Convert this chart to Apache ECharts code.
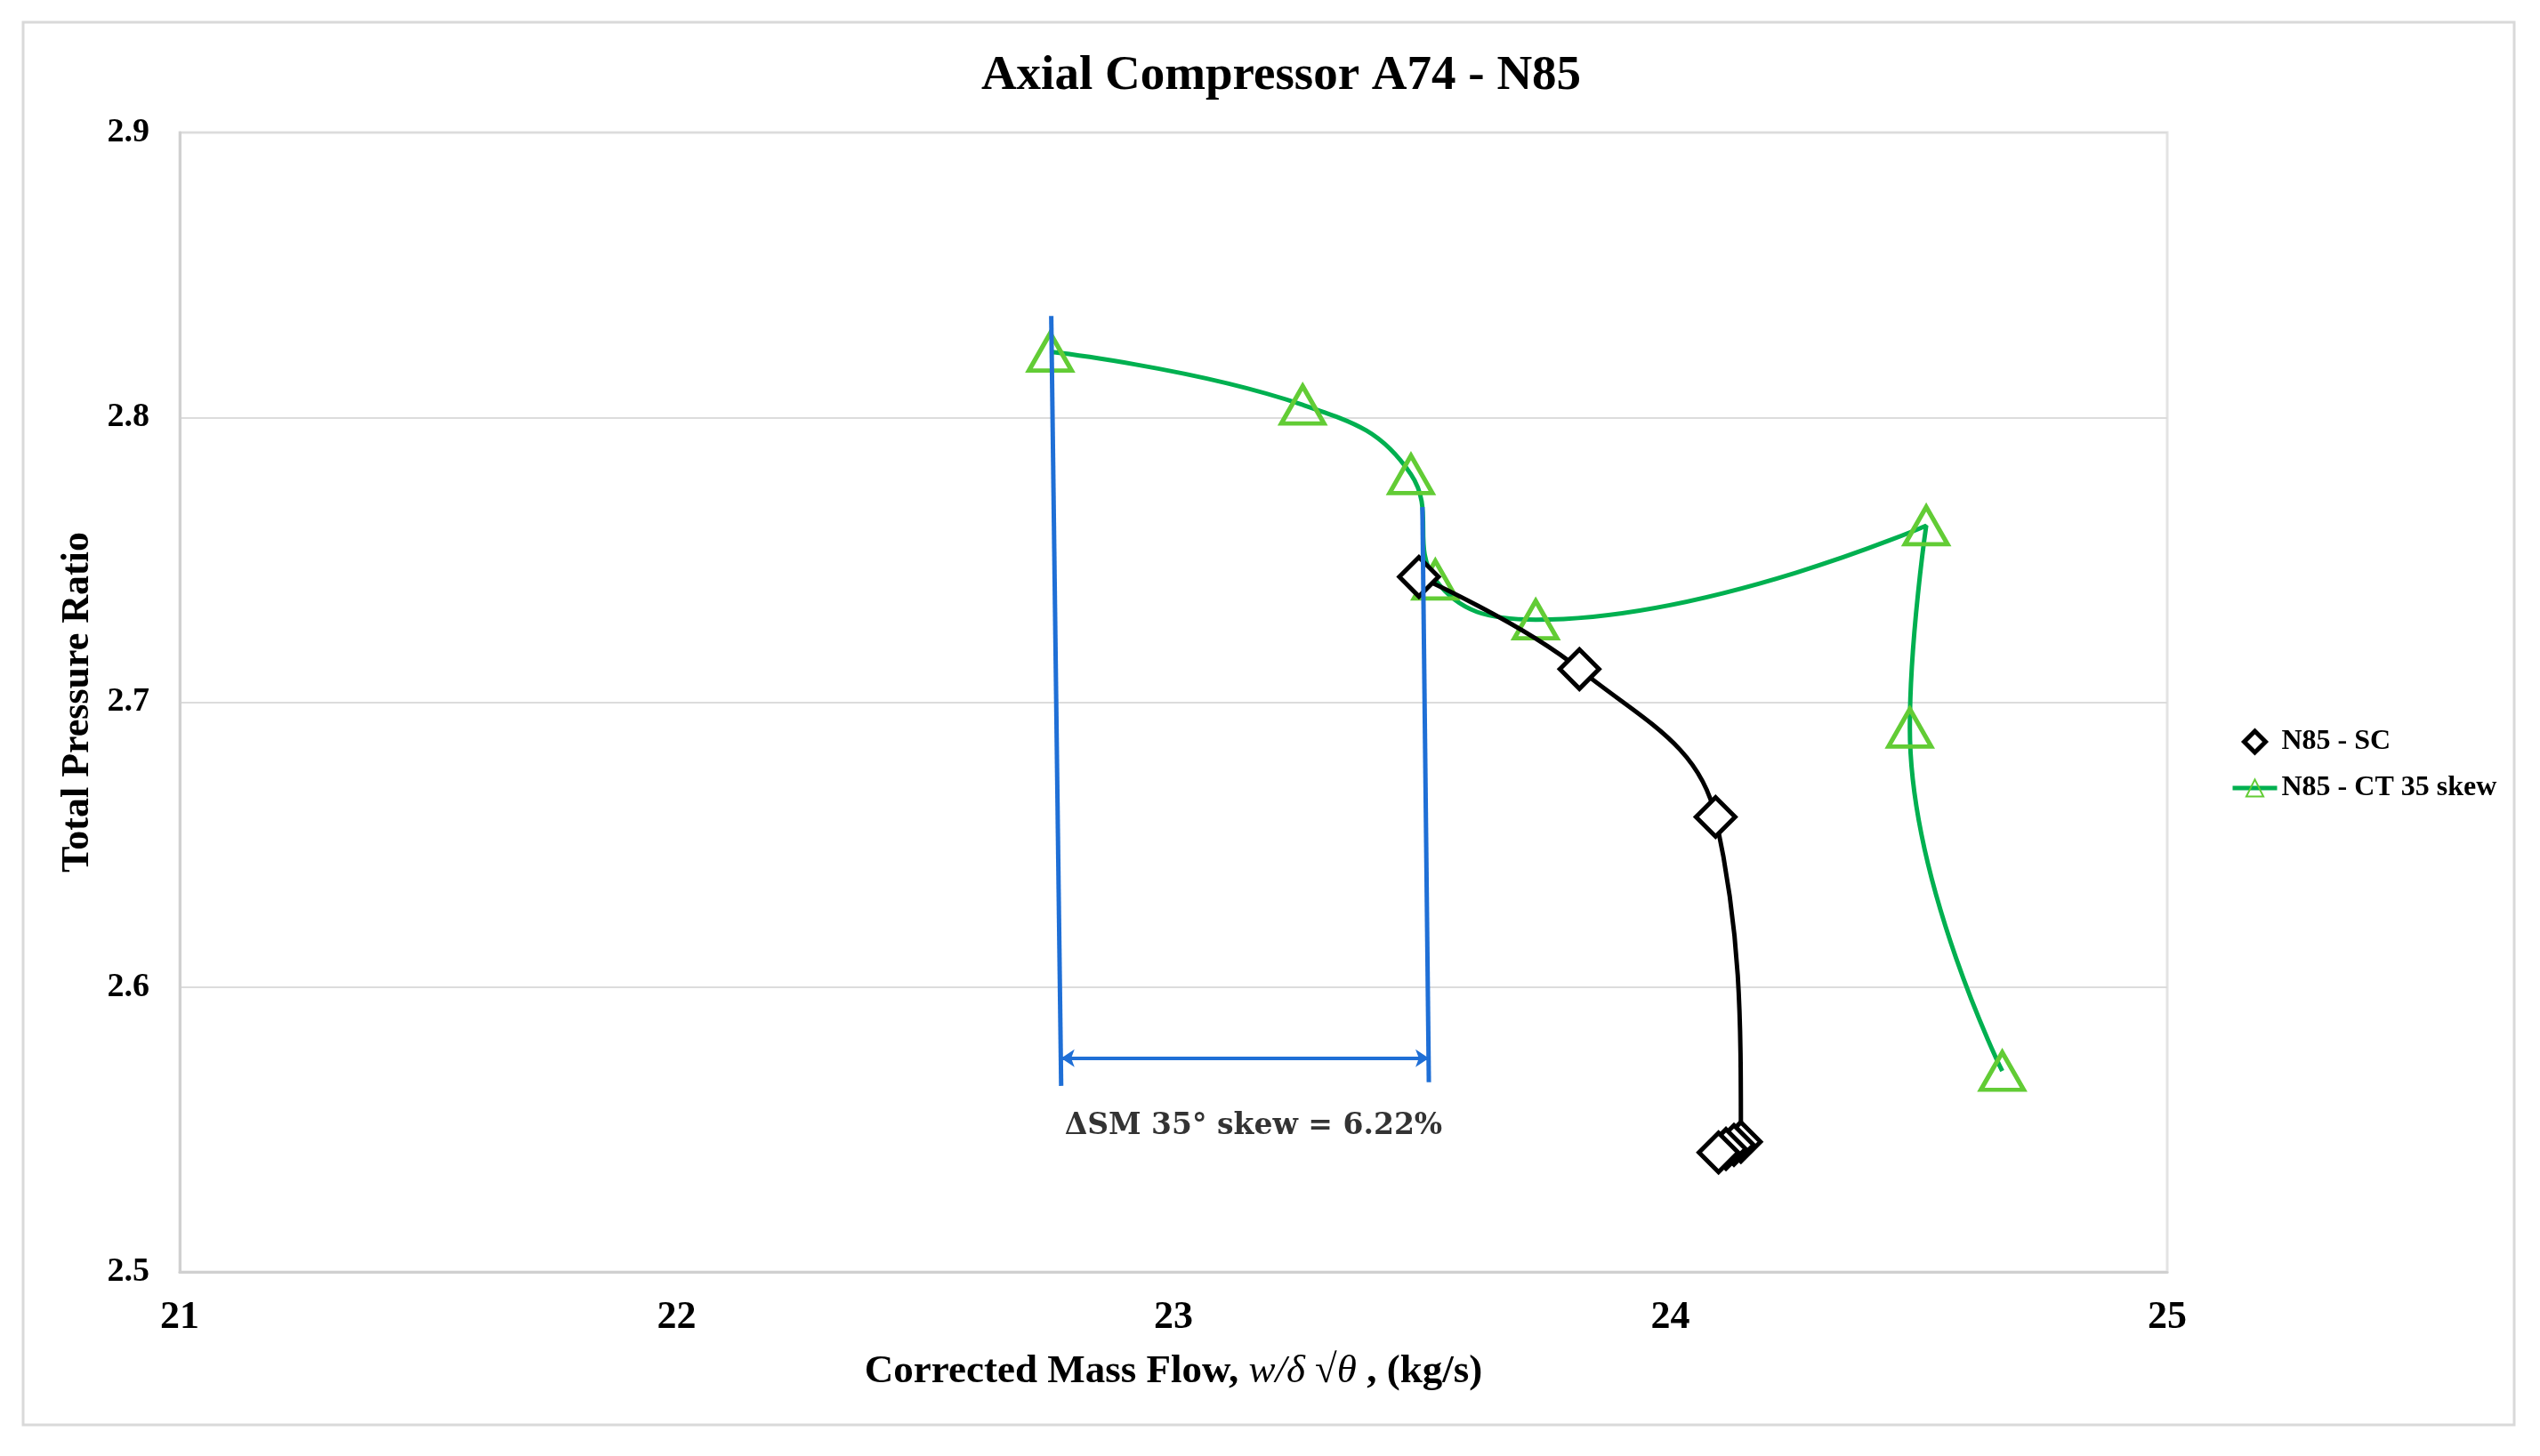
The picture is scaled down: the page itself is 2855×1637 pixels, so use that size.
<!DOCTYPE html>
<html>
<head>
<meta charset="utf-8">
<script src="https://cdn.jsdelivr.net/npm/echarts@6/dist/echarts.min.js"></script>
<style>
  html, body { margin: 0; padding: 0; background: #fff; }
  #main { width: 2855px; height: 1637px; }
</style>
<title>Axial Compressor A74 - N85</title>
</head>
<body>
<div id="main"></div>
<script>
  // axis ticks
  const xTicks = [21, 22, 23, 24, 25];
  const yTicks = [2.5, 2.6, 2.7, 2.8, 2.9];

  // N85 - SC (diamonds)
  const scFlow  = [23.494, 23.817, 24.091, 24.142, 24.128, 24.112, 24.097];
  const scRatio = [2.744, 2.7116, 2.6597, 2.5457, 2.5446, 2.5432, 2.5419];

  // N85 - CT 35 skew (triangles)
  const ctFlow  = [22.752, 23.260, 23.478, 23.527, 23.729, 24.515, 24.482, 24.668];
  const ctRatio = [2.823, 2.8044, 2.780, 2.743, 2.729, 2.762, 2.691, 2.5705];

  // stall margin annotation
  const smLeft  = [[22.754, 2.8356], [22.774, 2.5653]];
  const smRight = [[23.501, 2.7685], [23.514, 2.5666]];
  const smArrow = [[22.774, 2.575], [23.514, 2.575]];
  const smLabelAt = [23.161, 2.551];
  const smText = 'ΔSM 35° skew = 6.22%';

  const serif = 'Liberation Serif';
  const zip = (a, b) => a.map((v, i) => [v, b[i]]);

  const chart = echarts.init(document.getElementById('main'));

  const option = {
    backgroundColor: '#fff',
    animation: false,
    title: {
      text: 'Axial Compressor A74 - N85',
      left: 1435,
      textAlign: 'center',
      top: 53,
      textStyle: { fontFamily: serif, fontWeight: 'bold', fontSize: 55, color: '#000' }
    },
    graphic: [{
      type: 'rect', silent: true,
      shape: { x: 26, y: 25, width: 2800, height: 1577 },
      style: { fill: 'none', stroke: '#d9d9d9', lineWidth: 3 }
    }],
    legend: {
      orient: 'vertical',
      left: 2502,
      top: 810,
      itemWidth: 50,
      itemHeight: 24,
      itemGap: 14,
      symbolKeepAspect: true,
      textStyle: { fontFamily: serif, fontWeight: 'bold', fontSize: 32, color: '#000', lineHeight: 38 },
      data: [
        {
          name: 'N85 - SC',
          icon: 'path://M0,10 L10,0 L20,10 L10,20 Z',
          itemStyle: { color: '#fff', borderColor: '#000', borderWidth: 5 }
        },
        { name: 'N85 - CT 35 skew', lineStyle: { width: 5 } }
      ]
    },
    grid: {
      left: 202, top: 149, width: 2234, height: 1281,
      show: true, borderColor: '#e3e3e3', borderWidth: 3
    },
    xAxis: {
      type: 'value',
      min: xTicks[0], max: xTicks[xTicks.length - 1], interval: 1,
      axisLine: { show: true, lineStyle: { color: '#d0d0d0', width: 3 } },
      axisTick: { show: false },
      splitLine: { show: false },
      axisLabel: { fontFamily: serif, fontWeight: 'bold', fontSize: 44, color: '#000', margin: 30 },
      name: '{a|Corrected Mass Flow, }{b|w/δ}{a| √}{b|θ}{a| , (kg/s)}',
      nameLocation: 'middle',
      nameGap: 90,
      nameTextStyle: {
        rich: {
          a: { fontFamily: serif, fontWeight: 'bold', fontSize: 45, color: '#000' },
          b: { fontFamily: serif, fontStyle: 'italic', fontSize: 45, color: '#000' }
        }
      }
    },
    yAxis: {
      type: 'value',
      min: yTicks[0], max: yTicks[yTicks.length - 1], interval: 0.1,
      axisLine: { show: true, lineStyle: { color: '#d0d0d0', width: 3 } },
      axisTick: { show: false },
      splitLine: { show: true, lineStyle: { color: '#dcdcdc', width: 2 } },
      axisLabel: {
        fontFamily: serif, fontWeight: 'bold', fontSize: 38, color: '#000', margin: 34,
        formatter: v => v.toFixed(1)
      },
      name: 'Total Pressure Ratio',
      nameLocation: 'middle',
      nameGap: 90,
      nameTextStyle: { fontFamily: serif, fontWeight: 'bold', fontSize: 44, color: '#000' }
    },
    series: [
      {
        name: 'N85 - SC',
        type: 'line',
        z: 3,
        smooth: 0.4,
        data: zip(scFlow, scRatio),
        symbol: 'diamond',
        symbolSize: 44,
        lineStyle: { color: '#000', width: 5 },
        itemStyle: { color: '#fff', borderColor: '#000', borderWidth: 5 }
      },
      {
        name: 'N85 - CT 35 skew',
        type: 'line',
        z: 2,
        smooth: 0.45,
        data: zip(ctFlow, ctRatio),
        symbol: 'triangle',
        symbolSize: [48, 42],
        lineStyle: { color: '#00B050', width: 5 },
        itemStyle: { color: 'rgba(0,0,0,0)', borderColor: '#62CC35', borderWidth: 5 }
      },
      {
        type: 'lines',
        coordinateSystem: 'cartesian2d',
        silent: true,
        z: 5,
        symbol: 'none',
        lineStyle: { color: '#1F6FD6', width: 5, opacity: 1 },
        data: [{ coords: smLeft }, { coords: smRight }]
      },
      {
        type: 'lines',
        coordinateSystem: 'cartesian2d',
        silent: true,
        z: 5,
        symbol: ['arrow', 'arrow'],
        symbolSize: 15,
        lineStyle: { color: '#1F6FD6', width: 4, opacity: 1 },
        data: [{ coords: smArrow }]
      },
      {
        type: 'scatter',
        silent: true,
        z: 6,
        symbolSize: 1,
        itemStyle: { color: 'rgba(0,0,0,0)' },
        label: {
          show: true,
          position: 'inside',
          formatter: smText,
          fontFamily: 'DejaVu Serif',
          fontWeight: 'bold',
          fontSize: 33,
          color: '#000'
        },
        data: [smLabelAt]
      }
    ]
  };

  chart.setOption(option);
  window.addEventListener('resize', () => chart.resize());
</script>
</body>
</html>
